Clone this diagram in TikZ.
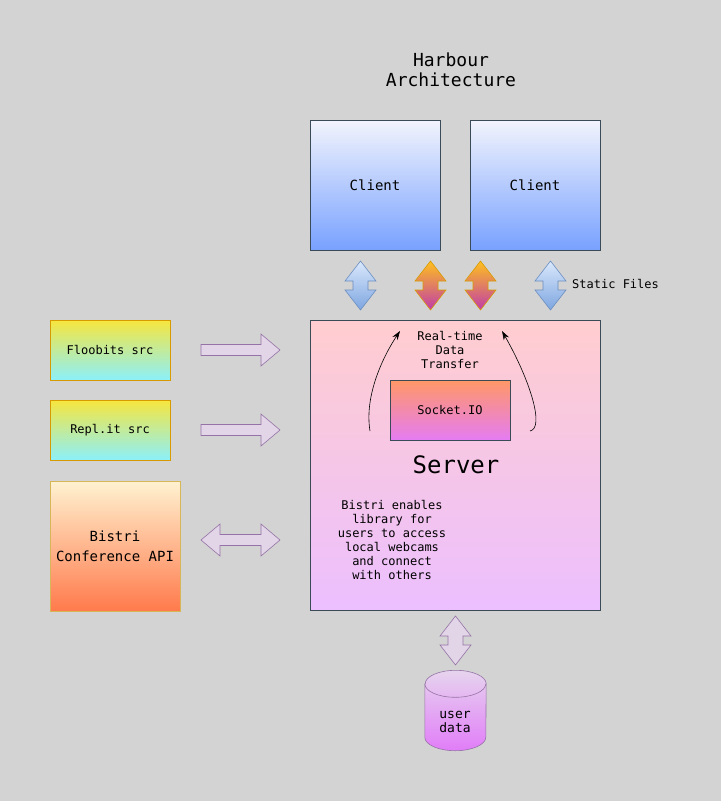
\documentclass[tikz,border=0pt]{standalone}
\usepackage{fontspec}
\setmainfont{DejaVu Sans Mono}
\usetikzlibrary{arrows.meta,shapes.geometric}
\definecolor{bg}{HTML}{D3D3D3}
\definecolor{boxline}{HTML}{3A4A56}
\definecolor{purfill}{HTML}{E1D5E7}
\definecolor{purline}{HTML}{9673A6}
\definecolor{blueline}{HTML}{6C8EBF}
\definecolor{orline}{HTML}{D79B00}
\newcommand\vdblarrow[4]{% cx, y1, y2, style
  \path[#4] (#1,#2) -- ++(15.5,20) -- ++(-8,0) -- (#1+7.5,#3-20) -- ++(8,0) -- (#1,#3)
    -- ++(-15.5,-20) -- ++(8,0) -- (#1-7.5,#2+20) -- ++(-8,0) -- cycle;}
\newcommand\hrarrow[4]{% x1, x2, cy, style
  \path[#4] (#1,#3-5.5) -- (#2-19,#3-5.5) -- ++(0,-10.5) -- (#2,#3) -- (#2-19,#3+16)
    -- ++(0,-10.5) -- (#1,#3+5.5) -- cycle;}
\newcommand\hdblarrow[4]{% x1, x2, cy, style
  \path[#4] (#1,#3) -- ++(19,-16) -- ++(0,10.5) -- (#2-19,#3-5.5) -- ++(0,-10.5) -- (#2,#3)
    -- (#2-19,#3+16) -- ++(0,-10.5) -- (#1+19,#3+5.5) -- ++(0,10.5) -- cycle;}
\tikzset{
  txt/.style={font=\fontsize{12}{14}\selectfont, align=center, inner sep=0pt},
  box/.style={draw=boxline, line width=0.8pt, minimum width=#1, minimum height=#1, inner sep=0pt,
    font=\fontsize{12}{14}\selectfont, align=center},
  clientbox/.style={box=130, font=\fontsize{14}{16}\selectfont,
    top color={rgb,255:red,242;green,244;blue,252}, bottom color={rgb,255:red,120;green,161;blue,255}},
  srcbox/.style={draw=orline, line width=0.8pt, minimum width=120, minimum height=60, inner sep=0pt,
    top color={rgb,255:red,247;green,230;blue,62}, bottom color={rgb,255:red,140;green,240;blue,250},
    font=\fontsize{12}{14}\selectfont, align=center},
  bluearr/.style={draw=blueline, line width=0.6pt, top color={rgb,255:red,218;green,232;blue,252},
    bottom color={rgb,255:red,126;green,166;blue,224}},
  orarr/.style={draw=orline, line width=0.6pt, top color={rgb,255:red,255;green,192;blue,30},
    bottom color={rgb,255:red,192;green,59;blue,170}},
  purarr/.style={draw=purline, line width=0.6pt, fill=purfill},
  curv/.style={-{Stealth[length=9pt,width=6pt]}, line width=0.6pt, black},
  dbshade/.style={draw=purline, line width=0.6pt,
    top color={rgb,255:red,230;green,212;blue,238}, bottom color={rgb,255:red,225;green,125;blue,248}},
}
\begin{document}
\begin{tikzpicture}[x=1pt,y=-1pt]
\fill[bg] (0,0) rectangle (721,801);
\useasboundingbox (0,0) rectangle (721,801);

% title
\node[txt, font=\fontsize{18}{20}\selectfont] (title) at (451,70) {Harbour\\Architecture};

% clients
\node[clientbox] (c1) at (375,185) {Client};
\node[clientbox] (c2) at (535,185) {Client};

% vertical arrows
\vdblarrow{360.5}{261}{310}{bluearr}
\vdblarrow{430.5}{261}{310}{orarr}
\vdblarrow{480.5}{261}{310}{orarr}
\vdblarrow{550.5}{261}{310}{bluearr}
\node[txt, anchor=west] (sf) at (572,284) {Static Files};

% server
\node[draw=boxline, line width=0.8pt, minimum width=290, minimum height=290, inner sep=0pt,
  top color={rgb,255:red,255;green,205;blue,207}, bottom color={rgb,255:red,236;green,191;blue,255}]
  (server) at (455,465) {};
\node[txt] (rt) at (450,350) {Real-time\\Data\\Transfer};
\node[box, minimum width=120, minimum height=60,
  top color={rgb,255:red,255;green,152;blue,102}, bottom color={rgb,255:red,229;green,124;blue,243}]
  (sock) at (450,410) {Socket.IO};
\node[txt, font=\fontsize{24}{28}\selectfont] (srvlbl) at (456,465) {Server};
\node[txt] (bistritxt) at (392,540) {Bistri enables\\library for\\users to access\\local webcams\\and connect\\with others};

\coordinate (la) at (370,431);
\coordinate (lb) at (400,331);
\coordinate (ra) at (530,431);
\coordinate (rb) at (502,331);
\draw[curv] (la) .. controls (364,395) and (384,355) .. (lb);
\draw[curv] (ra) .. controls (545,428) and (530,380) .. (rb);

% left sources
\node[srcbox] (floo) at (110,350) {Floobits src};
\node[srcbox] (repl) at (110,430) {Repl.it src};
\node[draw={rgb,255:red,214;green,182;blue,86}, line width=0.8pt, minimum width=130, minimum height=130, inner sep=0pt,
  top color={rgb,255:red,255;green,242;blue,208}, bottom color={rgb,255:red,255;green,122;blue,76},
  font=\fontsize{14}{20}\selectfont, align=center] (api) at (115,546) {Bistri\\Conference API};

% horizontal arrows
\hrarrow{201}{280}{350}{purarr}
\hrarrow{201}{280}{430}{purarr}
\hdblarrow{201}{280}{540}{purarr}

% database
\vdblarrow{455.5}{616}{665}{purarr}
\node[minimum width=61, minimum height=80, inner sep=0pt] (db) at (455.5,710.5) {};
\path[dbshade] ([yshift=-13.5pt]db.north west) -- ([yshift=13.5pt]db.south west)
  arc[start angle=180, end angle=0, x radius=30.5, y radius=13.5]
  -- ([yshift=-13.5pt]db.north east)
  arc[start angle=0, end angle=-180, x radius=30.5, y radius=13.5] -- cycle;
\draw[purline, line width=0.6pt] ([yshift=-13.5pt]db.north west)
  arc[start angle=180, end angle=0, x radius=30.5, y radius=13.5];
\node[txt, font=\fontsize{13}{14}\selectfont] (dbl) at (455,722) {user\\data};
\end{tikzpicture}
\end{document}
